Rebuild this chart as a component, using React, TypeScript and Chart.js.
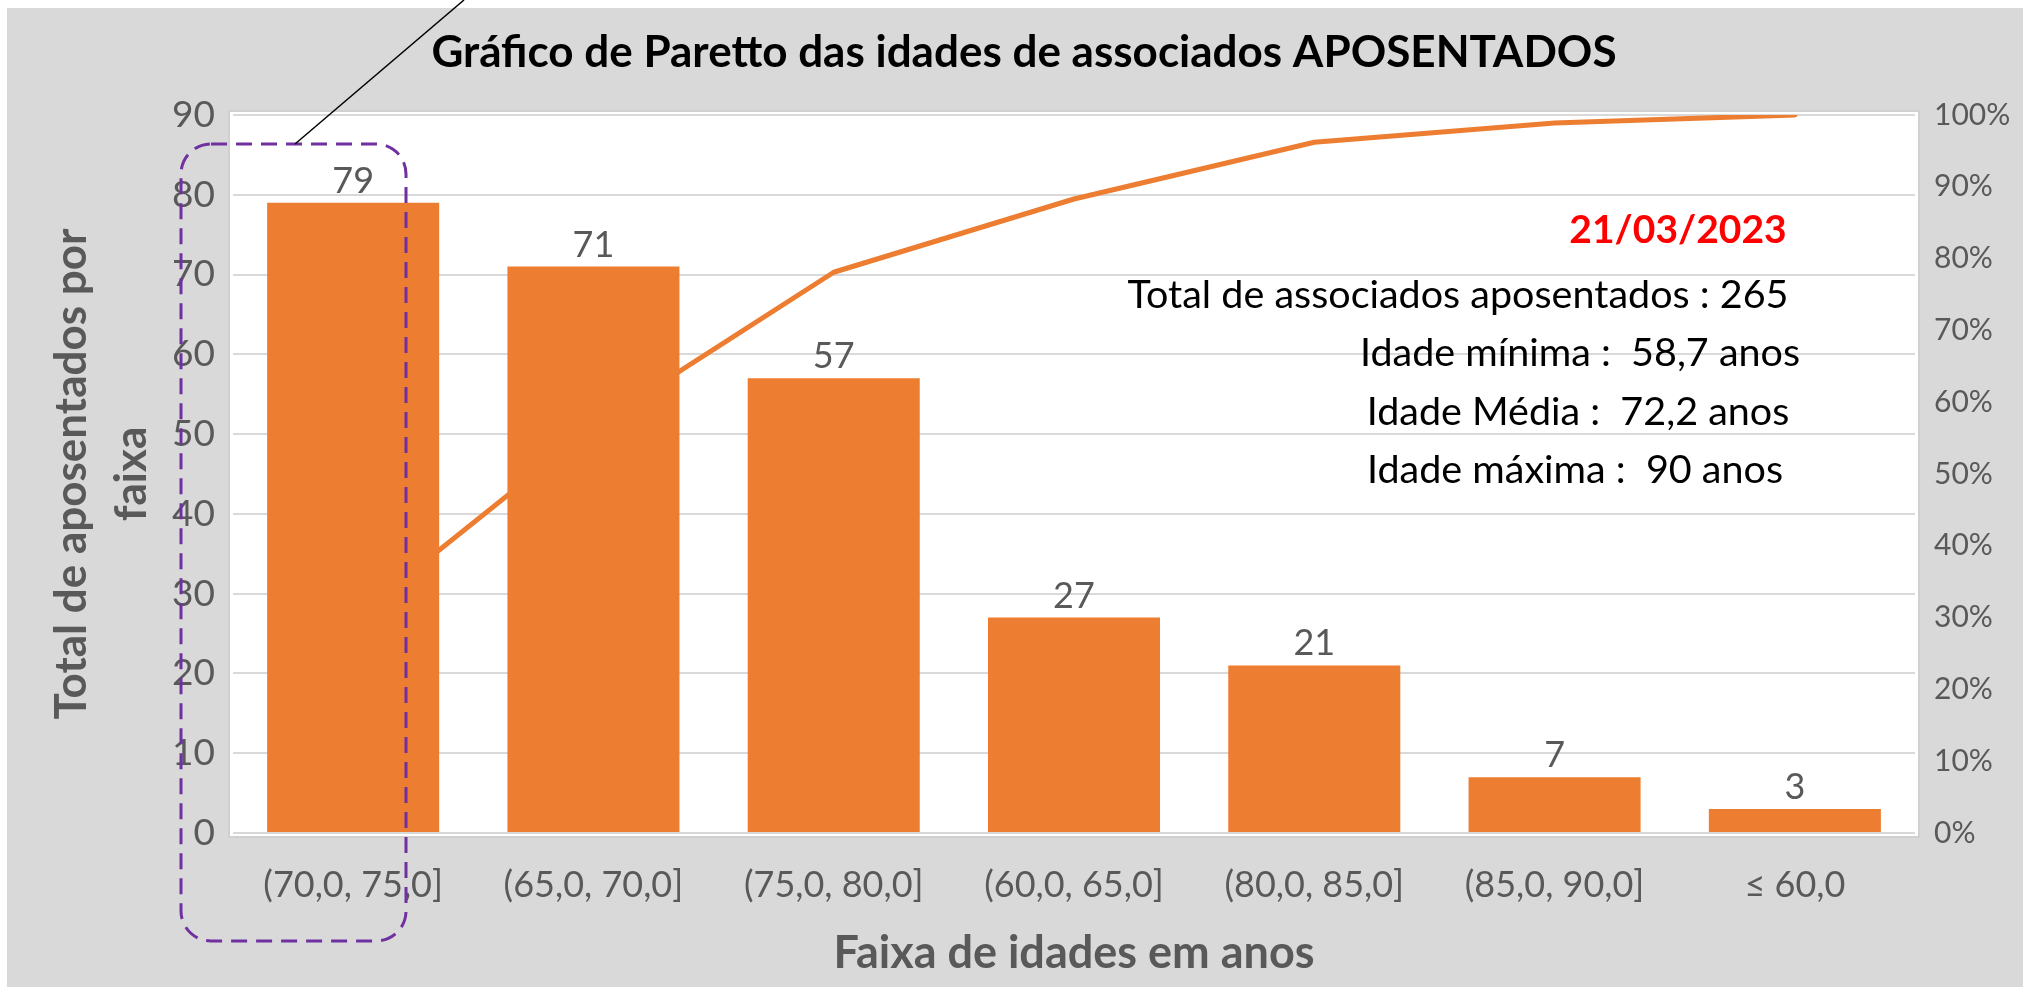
import React, { useEffect, useRef } from "react";
import { Chart, registerables } from "chart.js";

Chart.register(...registerables);

// ---------- data ----------
const categories = ["(70,0, 75,0]", "(65,0, 70,0]", "(75,0, 80,0]", "(60,0, 65,0]", "(80,0, 85,0]", "(85,0, 90,0]", "≤ 60,0"];
const counts = [79, 71, 57, 27, 21, 7, 3];
const cumulativePct = [29.8, 56.6, 78.1, 88.3, 96.2, 98.9, 100];
const leftAxisMax = 90;
const leftAxisStep = 10;
const rightAxisMax = 100;
const rightAxisStep = 10;

const titleText = "Gráfico de Paretto das idades de associados APOSENTADOS";
const yTitleLines = ["Total de aposentados por", "faixa"];
const xTitleText = "Faixa de idades em anos";
const dateText = "21/03/2023";
const infoLines = [
  "Total de associados aposentados : 265",
  "Idade mínima :  58,7 anos",
  "Idade Média :  72,2 anos",
  "Idade máxima :  90 anos",
];

// ---------- styles ----------
const FONT = "Lato, 'Open Sans', sans-serif";
const ORANGE = "#ED7D31";
const GRAY_TEXT = "#595959";
const BG_GRAY = "#D9D9D9";
const GRID = "#D9D9D9";

const W = 2023;
const H = 987;
const AREA = { left: 233, right: 1915, top: 115, bottom: 833 };

const decorPlugin = {
  id: "decor",
  beforeDraw(chart: any) {
    const ctx = chart.ctx;
    const a = chart.chartArea;
    ctx.save();
    ctx.fillStyle = "#ffffff";
    ctx.fillRect(0, 0, W, H);
    ctx.fillStyle = BG_GRAY;
    ctx.fillRect(7, 8, W - 7, H - 8);
    ctx.fillStyle = "#ffffff";
    ctx.fillRect(a.left - 4, a.top - 4, a.right - a.left + 8, a.bottom - a.top + 8);
    ctx.strokeStyle = "#D0D0D0";
    ctx.lineWidth = 2;
    ctx.strokeRect(a.left - 4, a.top - 4, a.right - a.left + 8, a.bottom - a.top + 8);
    ctx.restore();
  },
  afterDatasetsDraw(chart: any) {
    const ctx = chart.ctx;
    const meta = chart.getDatasetMeta(0);
    ctx.save();
    ctx.fillStyle = GRAY_TEXT;
    ctx.font = `36px ${FONT}`;
    ctx.textAlign = "center";
    ctx.textBaseline = "alphabetic";
    meta.data.forEach((bar: any, i: number) => {
      ctx.fillText(String(counts[i]), bar.x, bar.y - 10);
    });
    ctx.restore();
  },
  afterDraw(chart: any) {
    const ctx = chart.ctx;
    const a = chart.chartArea;
    ctx.save();
    // title
    ctx.fillStyle = "#000000";
    ctx.font = `bold 44px ${FONT}`;
    ctx.textAlign = "center";
    ctx.textBaseline = "middle";
    ctx.fillText(titleText, 1024, 53);

    // x title
    ctx.fillStyle = GRAY_TEXT;
    ctx.font = `bold 45px ${FONT}`;
    ctx.fillText(xTitleText, (a.left + a.right) / 2, 953);

    // y title
    ctx.save();
    ctx.translate(86, (a.top + a.bottom) / 2);
    ctx.rotate(-Math.PI / 2);
    ctx.textBaseline = "alphabetic";
    ctx.font = `bold 44px ${FONT}`;
    ctx.fillText(yTitleLines[0], 0, 0);
    ctx.fillText(yTitleLines[1], 0, 60);
    ctx.restore();

    // annotations
    ctx.fillStyle = "#FF0000";
    ctx.font = `bold 39px ${FONT}`;
    ctx.fillText(dateText, 1678, 230);
    ctx.fillStyle = "#000000";
    ctx.font = `39.5px ${FONT}`;
    const infoX = [1458, 1580, 1578, 1575];
    const infoY = [295, 353, 412, 470];
    infoLines.forEach((t, i) => ctx.fillText(t, infoX[i], infoY[i]));

    // dashed rounded highlight box
    ctx.strokeStyle = "#7030A0";
    ctx.lineWidth = 3;
    ctx.setLineDash([16, 9]);
    ctx.beginPath();
    (ctx as any).roundRect(181, 144, 225, 797, 30);
    ctx.stroke();
    ctx.setLineDash([]);

    // callout line
    ctx.strokeStyle = "#000000";
    ctx.lineWidth = 1.5;
    ctx.beginPath();
    ctx.moveTo(295, 144);
    ctx.lineTo(464, 0);
    ctx.stroke();
    ctx.restore();
  },
};

export default function App() {
  const ref = useRef<HTMLCanvasElement | null>(null);

  useEffect(() => {
    document.body.style.margin = "0";
    const canvas = ref.current;
    if (!canvas) return;
    const chart = new Chart(canvas, {
      data: {
        labels: categories,
        datasets: [
          {
            type: "bar",
            data: counts,
            backgroundColor: ORANGE,
            barPercentage: 0.716,
            categoryPercentage: 1,
            yAxisID: "y",
            order: 1,
          },
          {
            type: "line",
            data: cumulativePct,
            borderColor: ORANGE,
            borderWidth: 5,
            pointRadius: 0,
            tension: 0,
            yAxisID: "y1",
            order: 2,
            borderCapStyle: "round",
            borderJoinStyle: "round",
          },
        ],
      } as any,
      options: {
        responsive: false,
        animation: false,
        devicePixelRatio: 1,
        layout: { padding: { top: AREA.top, left: 0, right: 0, bottom: 0 } },
        plugins: {
          legend: { display: false },
          title: { display: false },
          tooltip: { enabled: false },
        },
        scales: {
          x: {
            type: "category",
            grid: { display: false },
            border: { display: false },
            ticks: {
              color: GRAY_TEXT,
              font: { family: FONT, size: 36 },
              padding: 23,
              maxRotation: 0,
              autoSkip: false,
            },
            afterFit: (s: any) => {
              s.height = H - AREA.bottom;
            },
          },
          y: {
            position: "left",
            min: 0,
            max: leftAxisMax,
            grid: { color: GRID, lineWidth: 2, drawTicks: false },
            border: { display: false },
            ticks: {
              stepSize: leftAxisStep,
              color: GRAY_TEXT,
              font: { family: FONT, size: 37 },
              padding: 18,
            },
            afterFit: (s: any) => {
              s.width = AREA.left;
            },
          },
          y1: {
            position: "right",
            min: 0,
            max: rightAxisMax,
            grid: { display: false, drawTicks: false },
            border: { display: false },
            ticks: {
              stepSize: rightAxisStep,
              color: GRAY_TEXT,
              font: { family: FONT, size: 30 },
              padding: 19,
              callback: (v: any) => `${v}%`,
            },
            afterFit: (s: any) => {
              s.width = W - AREA.right;
            },
          },
        },
      } as any,
      plugins: [decorPlugin],
    });
    return () => chart.destroy();
  }, []);

  return (
    <div style={{ position: "fixed", left: 0, top: 0, width: W, height: H }}>
      <canvas ref={ref} width={W} height={H} style={{ display: "block", width: W, height: H }} />
    </div>
  );
}
